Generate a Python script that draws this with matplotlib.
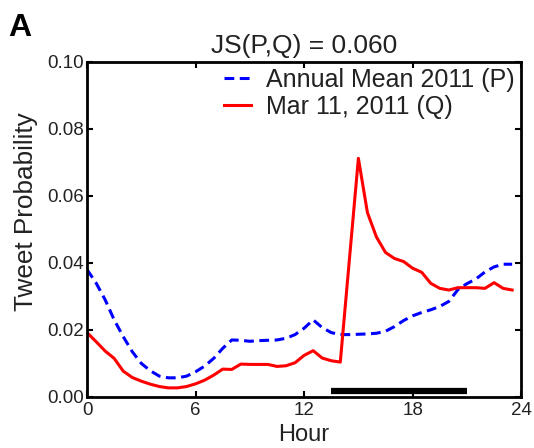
import numpy as np
import matplotlib
matplotlib.use("Agg")
import matplotlib.pyplot as plt

plt.rcParams['font.family'] = ['Liberation Sans', 'DejaVu Sans']
plt.rcParams['text.color'] = '#222222'
plt.rcParams['xtick.labelcolor'] = '#222222'
plt.rcParams['ytick.labelcolor'] = '#222222'
plt.rcParams['axes.labelcolor'] = '#222222'

# Annual mean 2011 (P), half-hour bins
hours_p = np.arange(0, 24, 0.5)
prob_p = [0.0380, 0.0340, 0.0290, 0.0230, 0.0180, 0.0135, 0.0100, 0.0078,
          0.0062, 0.0057, 0.0057, 0.0062, 0.0075, 0.0092, 0.0115, 0.0145,
          0.0170, 0.0169, 0.0166, 0.0168, 0.0169, 0.0170, 0.0175, 0.0186,
          0.0205, 0.0230, 0.0207, 0.0192, 0.0186, 0.0186, 0.0187, 0.0188,
          0.0190, 0.0196, 0.0210, 0.0228, 0.0242, 0.0252, 0.0260, 0.0270,
          0.0285, 0.0320, 0.0338, 0.0352, 0.0373, 0.0388, 0.0396, 0.0396]

# Mar 11, 2011 (Q)
hours_q = [0, 0.5, 1, 1.5, 2, 2.5, 3, 3.5, 4, 4.5, 5, 5.5, 6, 6.5, 7, 7.5,
           8, 8.5, 9, 9.5, 10, 10.5, 11, 11.5, 12, 12.5, 13, 13.5, 14,
           15, 15.5, 16, 16.5, 17, 17.5, 18, 18.5, 19, 19.5, 20, 20.5,
           21, 21.5, 22, 22.5, 23, 23.5]
prob_q = [0.0192, 0.0165, 0.0137, 0.0115, 0.0077, 0.0058, 0.0047, 0.0038,
          0.0031, 0.0027, 0.0027, 0.0031, 0.0039, 0.0050, 0.0065, 0.0083,
          0.0082, 0.0098, 0.0097, 0.0097, 0.0097, 0.0091, 0.0093, 0.0102,
          0.0124, 0.0138, 0.0116, 0.0108, 0.0104,
          0.0712, 0.0550, 0.0477, 0.0431, 0.0413, 0.0404, 0.0384, 0.0372,
          0.0339, 0.0324, 0.0319, 0.0326, 0.0326, 0.0326, 0.0324, 0.0341,
          0.0324, 0.0319]

# black bar marking the period after the event
bar_start, bar_end, bar_level = 13.5, 21.0, 0.0019

fig = plt.figure(figsize=(5.34, 4.48), dpi=100)
ax = fig.add_axes([0.163, 0.114, 0.813, 0.748])

ax.plot(hours_p, prob_p, color='blue', linestyle=(0, (3.2, 1.8)), linewidth=2.2,
        label='Annual Mean 2011 (P)')
ax.plot(hours_q, prob_q, color='red', linewidth=2.2, label='Mar 11, 2011 (Q)')
ax.plot([bar_start, bar_end], [bar_level, bar_level], color='black',
        linewidth=4.5, solid_capstyle='butt')

ax.set_xlim(0, 24)
ax.set_ylim(0, 0.10)
ax.set_xticks([0, 6, 12, 18, 24])
ax.set_yticks([0.00, 0.02, 0.04, 0.06, 0.08, 0.10])
ax.set_yticklabels(['0.00', '0.02', '0.04', '0.06', '0.08', '0.10'])
ax.tick_params(direction='in', top=True, right=True, length=4, width=1.5,
               labelsize=13.5)
ax.tick_params(axis='y', pad=2)
ax.tick_params(axis='x', pad=4)
for s in ax.spines.values():
    s.set_linewidth(2)

ax.set_xlabel('Hour', fontsize=17, labelpad=3)
ax.set_ylabel('Tweet Probability', fontsize=18.8)
ax.yaxis.set_label_coords(-0.113, 0.552)
ax.set_title('JS(P,Q) = 0.060', fontsize=19, pad=6)

ax.legend(loc='upper right', fontsize=18, frameon=False, handlelength=1.1,
          handletextpad=0.6, labelspacing=0.1, borderaxespad=0.1,
          borderpad=0.15)

fig.text(0.015, 0.97, 'A', fontsize=23, fontweight='bold', va='top', ha='left',
         color='black')

fig.savefig('out.png', dpi=100)
